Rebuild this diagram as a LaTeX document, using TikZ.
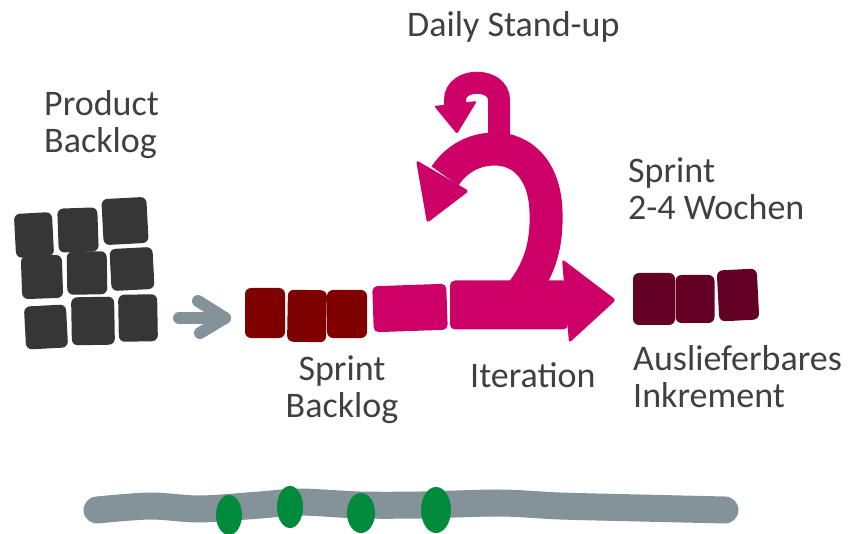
\documentclass[tikz,border=0pt]{standalone}
\usepackage{fontspec}
\setmainfont{Carlito}
\usetikzlibrary{calc}
\definecolor{txt}{HTML}{404040}
\definecolor{pbc}{HTML}{363636}
\definecolor{sbc}{HTML}{7F0000}
\definecolor{inc}{HTML}{650025}
\definecolor{pinkc}{HTML}{CC0066}
\definecolor{grayc}{HTML}{84939A}
\definecolor{greenc}{HTML}{008A3B}
\begin{document}
\begin{tikzpicture}[x=1pt,y=-1pt,
  tile/.style={draw=none, rounded corners=6pt, inner sep=0pt, outer sep=0pt},
  tsz/.style 2 args={minimum width=#1pt, minimum height=#2pt},
  lbl/.style={font=\fontsize{36}{37}\selectfont, text=txt, inner sep=0pt},
  pinkband/.style={draw=pinkc, line cap=butt},
  grayline/.style={draw=grayc, line width=12pt, line cap=round, line join=round}]
\useasboundingbox (0,0) rectangle (848,534);

% Product backlog
\node[tile, fill=pbc, tsz={38}{44}, rotate=3] (p1) at (34,235) {};
\node[tile, fill=pbc, tsz={40}{44}, rotate=2] (p2) at (78,230) {};
\node[tile, fill=pbc, tsz={45}{46}, rotate=3] (p3) at (125,221) {};
\node[tile, fill=pbc, tsz={41}{43}, rotate=2] (p4) at (42,277) {};
\node[tile, fill=pbc, tsz={40}{43}, rotate=1] (p5) at (87,273) {};
\node[tile, fill=pbc, tsz={43}{42}, rotate=3] (p6) at (132,269) {};
\node[tile, fill=pbc, tsz={42}{43}, rotate=3] (p7) at (46,327) {};
\node[tile, fill=pbc, tsz={43}{48}, rotate=1] (p8) at (93,321) {};
\node[tile, fill=pbc, tsz={39}{47}, rotate=1] (p9) at (138,318) {};

% Sprint backlog
\node[tile, fill=sbc, tsz={40}{50}] (s1) at (265,313) {};
\node[tile, fill=sbc, tsz={39}{52}, rotate=-1] (s2) at (307,316) {};
\node[tile, fill=sbc, tsz={40}{48}] (s3) at (347,314) {};

% Increment
\node[tile, fill=inc, tsz={42}{52}] (i1) at (654,299) {};
\node[tile, fill=inc, tsz={39}{48}] (i2) at (695,299) {};
\node[tile, fill=inc, tsz={40}{51}, rotate=3] (i3) at (738,295) {};

% gray arrow
\coordinate (gstart) at (179,318);
\coordinate (gtip) at ($(s1.west)+(-20,5)$);
\draw[grayline] (gstart) -- (gtip);
\draw[grayline] ($(gtip)+(-27,-17)$) -- (gtip) -- ($(gtip)+(-25,15)$);

% pink iteration
\node[tile, fill=pinkc, rounded corners=5pt, tsz={74}{46}, rotate=2] (it1) at (410,308) {};
\node[tile, fill=pinkc, rounded corners=5pt, tsz={118}{49}] (it2) at (509,305) {};
\fill[pinkc, rounded corners=3pt] (562,259) -- (616,300) -- (569,343) -- cycle;
\draw[pinkband, line width=33pt] (522,292) .. controls (540,268) and (547,245) .. (546,212)
   .. controls (545,170) and (522,149) .. (495,149) .. controls (475,149) and (457,158) .. (445,176);
\fill[pinkc, rounded corners=3pt] (416,160) -- (469,191) -- (427,223) -- cycle;
\draw[pinkband, line width=22pt] (499,150) -- (499,100) .. controls (499,77) and (455,77) .. (455,100) -- (455,106);
\fill[pinkc, rounded corners=2pt] (434,106) -- (477,101) -- (457,134) -- cycle;

% timeline
\draw[grayc, line width=27pt, line cap=round] plot[smooth] coordinates
  {(97,510) (150,506) (200,509) (260,505) (300,502) (360,505) (420,505) (500,503) (560,506) (640,508) (725,510)};
\fill[greenc] (229,515) ellipse (13 and 20);
\fill[greenc] (290,507) ellipse (13 and 21);
\fill[greenc] (361,513) ellipse (14 and 20);
\fill[greenc] (436,510) ellipse (15 and 23);

% labels
\node[lbl, anchor=base west] (ds) at (407,37) {Daily Stand-up};
\node[lbl, anchor=base west, align=left] (pbl) at (44,153) {Product\\Backlog};
\node[lbl, anchor=base west, align=left] (spl) at (628,220) {Sprint\\2-4 Wochen};
\node[lbl, anchor=base, align=center] (sbl) at (342,417) {Sprint\\Backlog};
\node[lbl, anchor=base west] (itl) at (470,387) {Iteration};
\node[lbl, anchor=base west, align=left] (incl) at (633,407) {Auslieferbares\\Inkrement};
\end{tikzpicture}
\end{document}
